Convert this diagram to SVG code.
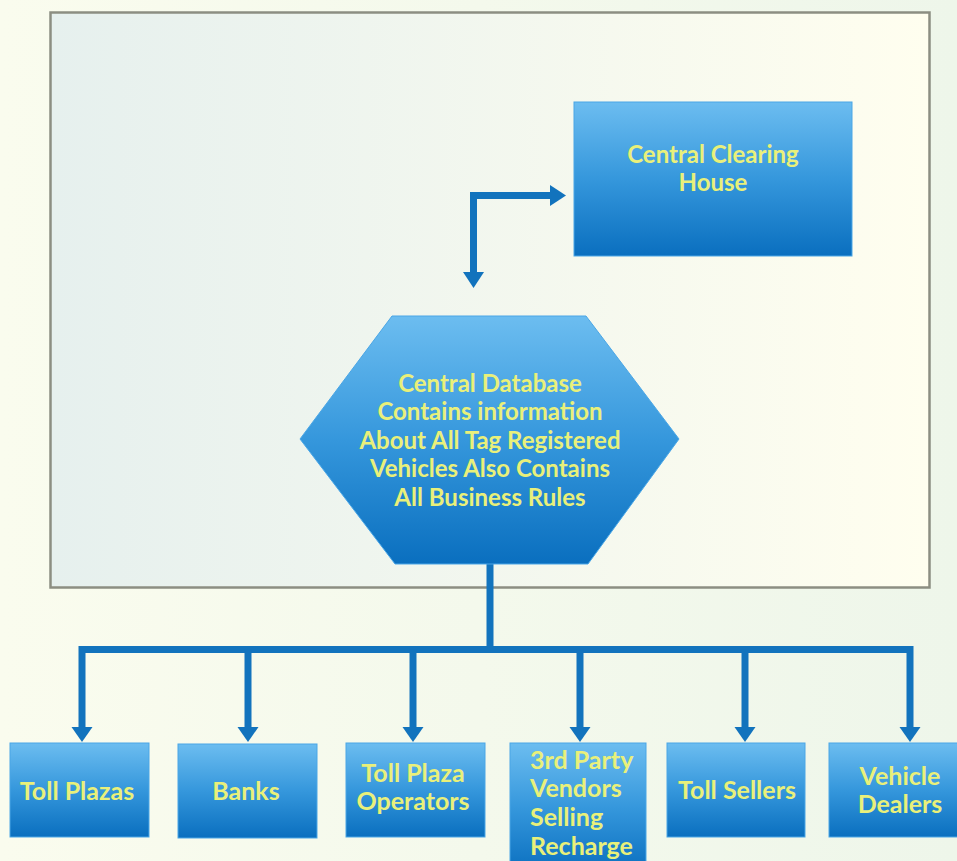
<svg xmlns="http://www.w3.org/2000/svg" width="957" height="861" viewBox="0 0 957 861">
<defs>
<linearGradient id="bg" x1="0" y1="0" x2="1" y2="0">
<stop offset="0" stop-color="#fafcee"/>
<stop offset="1" stop-color="#eef6ea"/>
</linearGradient>
<linearGradient id="frame" x1="0" y1="0" x2="1" y2="0">
<stop offset="0" stop-color="#e6f0ee"/>
<stop offset="1" stop-color="#fffeef"/>
</linearGradient>
<linearGradient id="blue" x1="0" y1="0" x2="0" y2="1">
<stop offset="0" stop-color="#6cbdf0"/>
<stop offset="0.5" stop-color="#3597dc"/>
<stop offset="1" stop-color="#0a6fbf"/>
</linearGradient>
<path id="ahd" d="M-10.5,-15 L10.5,-15 L0,0 Z"/>
</defs>
<style>
.node { fill: url(#blue); stroke: #4aa6e6; stroke-width: 1; }
.lbl { font-family: Lato, "Open Sans", sans-serif; font-weight: bold; fill: #e9f07a; font-size: 25px; text-anchor: middle; }
.hx { font-size: 24px; }
.conn { fill: none; stroke: #1273bd; stroke-width: 7; }
.head { fill: #1273bd; }
</style>
<rect x="0" y="0" width="957" height="861" fill="url(#bg)"/>
<rect x="50.5" y="12.5" width="879" height="575" fill="url(#frame)" stroke="#8c8e82" stroke-width="2.5"/>

<g id="connectors">
<path class="conn" d="M473.5,274 V195.5 H551"/>
<polygon class="head" points="550,185 566,195.5 550,206"/>
<polygon class="head" points="463,272 484,272 473.5,288"/>
<path class="conn" d="M490,564 V649.5"/>
<path class="conn" d="M82,729 V649.5 H910 V729"/>
<path class="conn" d="M248,649.5 V729"/>
<path class="conn" d="M413,649.5 V729"/>
<path class="conn" d="M580,649.5 V729"/>
<path class="conn" d="M745,649.5 V729"/>
<use href="#ahd" class="head" x="82" y="742"/>
<use href="#ahd" class="head" x="248" y="742"/>
<use href="#ahd" class="head" x="413" y="742"/>
<use href="#ahd" class="head" x="580" y="742"/>
<use href="#ahd" class="head" x="745" y="742"/>
<use href="#ahd" class="head" x="910" y="742"/>
</g>

<g id="clearing-house">
<rect class="node" x="574" y="102" width="278" height="154"/>
<text class="lbl hx" x="713" y="163">Central Clearing</text>
<text class="lbl hx" x="713" y="191">House</text>
</g>

<g id="central-database">
<polygon class="node" points="392,316 586,316 679,439 588,564 395,564 300,439"/>
<text class="lbl hx" x="490" y="392">Central Database</text>
<text class="lbl hx" x="490" y="420">Contains information</text>
<text class="lbl hx" x="490" y="449">About All Tag Registered</text>
<text class="lbl hx" x="490" y="477">Vehicles Also Contains</text>
<text class="lbl hx" x="490" y="506">All Business Rules</text>
</g>

<g id="toll-plazas">
<rect class="node" x="10" y="743" width="139" height="94"/>
<text class="lbl" x="77" y="800">Toll Plazas</text>
</g>
<g id="banks">
<rect class="node" x="178" y="744" width="139" height="94"/>
<text class="lbl" x="246" y="800">Banks</text>
</g>
<g id="toll-plaza-operators">
<rect class="node" x="346" y="743" width="139" height="94"/>
<text class="lbl" x="413" y="782">Toll Plaza</text>
<text class="lbl" x="413" y="810">Operators</text>
</g>
<g id="third-party-vendors">
<rect class="node" x="510" y="743" width="136" height="130"/>
<text class="lbl" x="530" y="769" style="text-anchor:start">3rd Party</text>
<text class="lbl" x="530" y="797" style="text-anchor:start">Vendors</text>
<text class="lbl" x="530" y="826" style="text-anchor:start">Selling</text>
<text class="lbl" x="530" y="855" style="text-anchor:start">Recharge</text>
</g>
<g id="toll-sellers">
<rect class="node" x="667" y="743" width="138" height="94"/>
<text class="lbl" x="737" y="799">Toll Sellers</text>
</g>
<g id="vehicle-dealers">
<rect class="node" x="829" y="743" width="140" height="94"/>
<text class="lbl" x="900" y="785">Vehicle</text>
<text class="lbl" x="900" y="813">Dealers</text>
</g>
</svg>
